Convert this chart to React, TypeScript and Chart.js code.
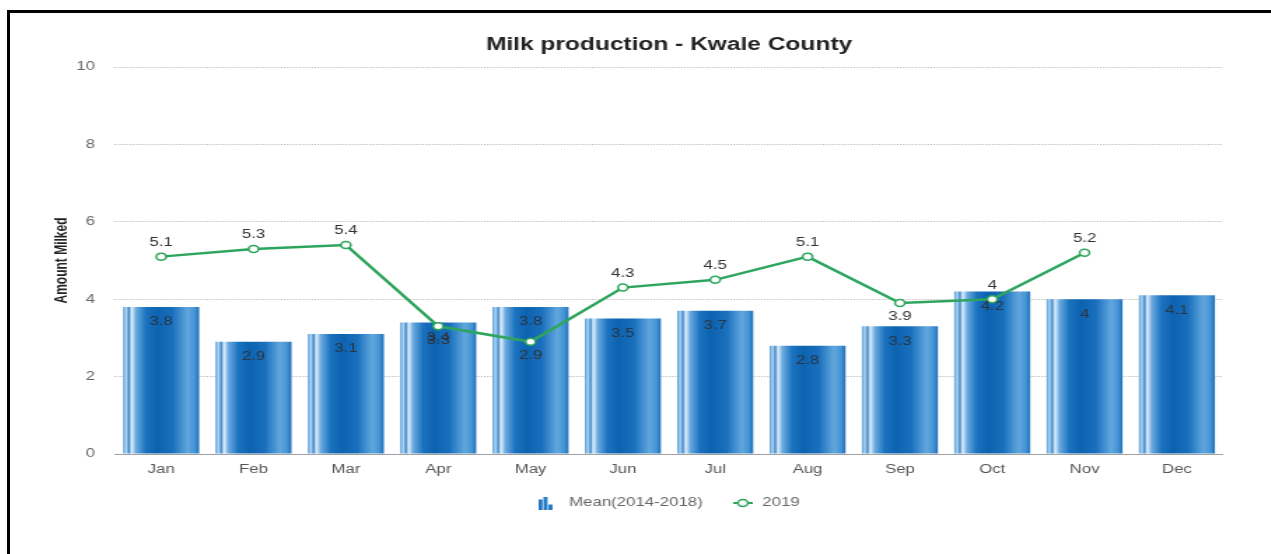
import React, { useEffect, useRef } from 'react';
import { Chart, registerables } from 'chart.js';

Chart.register(...registerables);

const months = ['Jan', 'Feb', 'Mar', 'Apr', 'May', 'Jun', 'Jul', 'Aug', 'Sep', 'Oct', 'Nov', 'Dec'];
const meanValues = [3.8, 2.9, 3.1, 3.4, 3.8, 3.5, 3.7, 2.8, 3.3, 4.2, 4, 4.1];
const values2019: (number | null)[] = [5.1, 5.3, 5.4, 3.3, 2.9, 4.3, 4.5, 5.1, 3.9, 4, 5.2, null];
const yMin = 0;
const yMax = 10;
const yStep = 2;

const SX = 1.4;
const W = 900;
const H = 554;
const FONT = '"Liberation Sans", Arial, sans-serif';
const GREEN = '#2ea55c';
const BAR_PCT = 0.823;
const Y_PAD = 14.3;
const X_PAD = 8;

function barIcon(): HTMLCanvasElement {
  const c = document.createElement('canvas');
  c.width = 16;
  c.height = 13;
  const g = c.getContext('2d')!;
  g.fillStyle = '#1b74c2';
  g.fillRect(0, 3, 2.8, 10);
  g.fillRect(3.6, 0, 2.8, 13);
  g.fillRect(7.2, 8, 2.8, 5);
  return c;
}

function lineIcon(): HTMLCanvasElement {
  const c = document.createElement('canvas');
  c.width = 14;
  c.height = 10;
  const g = c.getContext('2d')!;
  g.strokeStyle = GREEN;
  g.lineWidth = 2;
  g.beginPath();
  g.moveTo(0, 5);
  g.lineTo(14, 5);
  g.stroke();
  g.beginPath();
  g.arc(7, 5, 3.5, 0, Math.PI * 2);
  g.fillStyle = '#fff';
  g.fill();
  g.lineWidth = 1.5;
  g.stroke();
  return c;
}

const valueLabels = {
  id: 'valueLabels',
  afterDatasetsDraw(chart: any) {
    const ctx = chart.ctx;
    ctx.save();
    ctx.font = '12px ' + FONT;
    ctx.textAlign = 'center';
    ctx.textBaseline = 'middle';
    const barMeta = chart.getDatasetMeta(0);
    barMeta.data.forEach((el: any, i: number) => {
      const v = meanValues[i];
      ctx.fillStyle = '#2a3542';
      ctx.fillText(String(v), el.x, el.y + 15);
    });
    const lineMeta = chart.getDatasetMeta(1);
    lineMeta.data.forEach((el: any, i: number) => {
      const v = values2019[i];
      if (v === null || v === undefined) return;
      const prev = i > 0 ? values2019[i - 1] : null;
      const below = prev !== null && prev !== undefined && v < prev;
      ctx.fillStyle = '#333';
      ctx.fillText(String(v), el.x, below ? el.y + 14 : el.y - 14);
    });
    ctx.restore();
  },
};

export default function App() {
  const ref = useRef<HTMLCanvasElement | null>(null);

  useEffect(() => {
    if (!ref.current) return;
    Chart.defaults.font.family = FONT;
    const bIcon = barIcon();
    const lIcon = lineIcon();
    const chart = new Chart(ref.current, {
      data: {
        labels: months,
        datasets: [
          {
            type: 'bar' as const,
            label: 'Mean(2014-2018)',
            data: meanValues,
            order: 2,
            categoryPercentage: 1,
            barPercentage: BAR_PCT,
            borderWidth: 0,
            backgroundColor: (c: any) => {
              const ch = c.chart;
              const area = ch.chartArea;
              if (!area || c.type !== 'data') return '#1b6fba';
              const xs = ch.scales.x;
              const cx = xs.getPixelForValue(c.dataIndex);
              const w = (area.width / months.length) * BAR_PCT;
              const g = ch.ctx.createLinearGradient(cx - w / 2, 0, cx + w / 2, 0);
              g.addColorStop(0, '#4f98d4');
              g.addColorStop(0.04, '#b5d8f3');
              g.addColorStop(0.075, '#3b86c8');
              g.addColorStop(0.11, '#e3f1fc');
              g.addColorStop(0.17, '#6aaae0');
              g.addColorStop(0.3, '#1b72be');
              g.addColorStop(0.45, '#0d63b0');
              g.addColorStop(0.65, '#1a70bd');
              g.addColorStop(0.85, '#62a7de');
              g.addColorStop(0.94, '#4594d6');
              g.addColorStop(1, '#1f6fb9');
              return g;
            },
          },
          {
            type: 'line' as const,
            label: '2019',
            data: values2019,
            order: 1,
            borderColor: GREEN,
            borderWidth: 2.5,
            pointRadius: 3.5,
            pointBorderWidth: 1.5,
            pointBackgroundColor: '#ffffff',
            pointBorderColor: GREEN,
            tension: 0,
            spanGaps: false,
          },
        ],
      },
      options: {
        animation: false,
        responsive: false,
        devicePixelRatio: 1,
        layout: { padding: { left: 31.4, right: 32.1, top: 0, bottom: 35 } },
        plugins: {
          title: {
            display: true,
            text: 'Milk production - Kwale County',
            fullSize: false,
            color: '#222',
            font: { size: 17.5, weight: 'bold', family: FONT },
            padding: { top: 34.5, bottom: 11.5 },
          },
          legend: {
            position: 'bottom',
            fullSize: false,
            labels: {
              usePointStyle: true,
              pointStyleWidth: 16,
              padding: 20.6,
              color: '#666',
              font: { size: 12, family: FONT },
              generateLabels: (ch: any) => {
                const items = Chart.defaults.plugins.legend.labels.generateLabels(ch);
                return items
                  .slice()
                  .sort((a: any, b: any) => a.datasetIndex - b.datasetIndex)
                  .map((it: any) => ({
                    ...it,
                    pointStyle: it.datasetIndex === 0 ? bIcon : lIcon,
                  }));
              },
            },
          },
          tooltip: { enabled: false },
        },
        scales: {
          x: {
            grid: { display: false, drawTicks: false },
            border: { display: true, color: '#a0a0a0', width: 1 },
            ticks: { color: '#555', padding: X_PAD, font: { size: 12, family: FONT } },
            afterFit: (s: any) => {
              s.height -= X_PAD;
            },
          },
          y: {
            min: yMin,
            max: yMax,
            ticks: {
              stepSize: yStep,
              color: '#666',
              padding: Y_PAD,
              font: { size: 12, family: FONT },
            },
            grid: { color: '#b5b5b5', lineWidth: 1, drawTicks: false },
            border: { display: false, dash: [1, 1.2] },
            title: {
              display: true,
              text: 'Amount Milked',
              color: '#222',
              font: { size: 12, weight: 'bold', family: FONT },
              padding: { top: 0, bottom: 3 },
            },
            afterFit: (s: any) => {
              s.width -= Y_PAD;
            },
          },
        },
      },
      plugins: [valueLabels],
    } as any);
    return () => chart.destroy();
  }, []);

  return (
    <div style={{ position: 'fixed', left: 0, top: 0, width: 1271, height: 554, overflow: 'hidden', background: '#fff' }}>
      <div
        style={{
          position: 'absolute',
          left: 7,
          top: 10,
          width: 1400,
          height: 700,
          borderLeft: '3px solid #000',
          borderTop: '3px solid #000',
        }}
      />
      <div
        style={{
          position: 'absolute',
          left: 8,
          top: 0,
          width: W,
          height: H,
          transform: `scaleX(${SX})`,
          transformOrigin: '0 0',
        }}
      >
        <canvas ref={ref} width={W} height={H} style={{ width: W, height: H, display: 'block' }} />
      </div>
    </div>
  );
}
